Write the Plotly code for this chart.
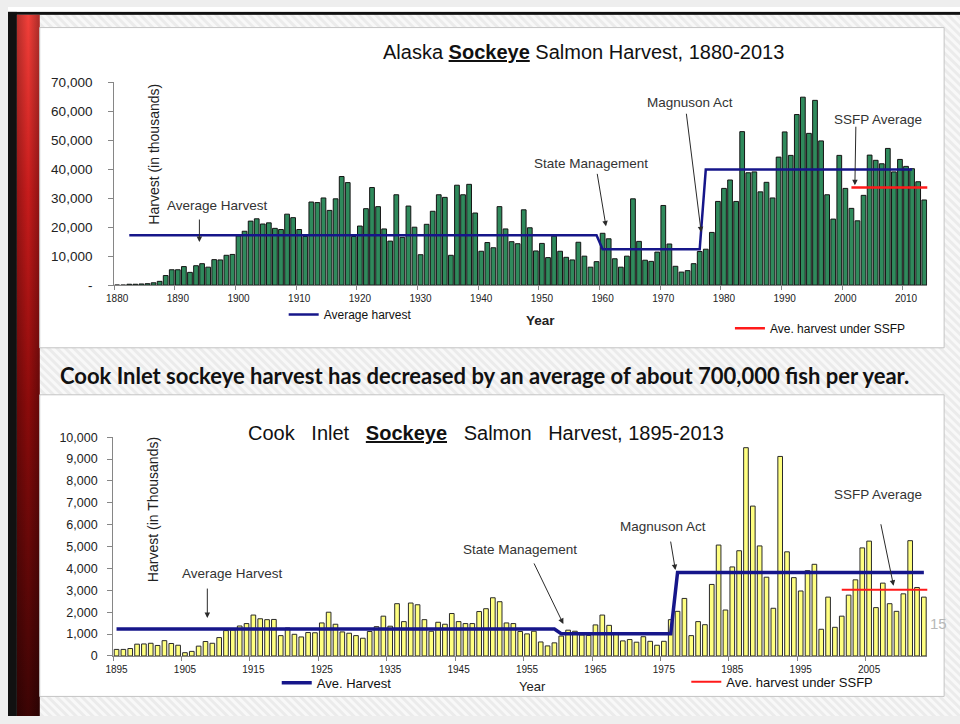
import base64
import plotly.graph_objects as go

# ---------------- data ----------------
alaska_years = list(range(1880, 2014))
alaska_harvest = [
    0, 0, 300, 300, 400, 500, 800, 1300, 3300, 5300,                          # 1880s
    5300, 6400, 4400, 6700, 7400, 6200, 8800, 8700, 10300, 10600,             # 1890s
    17000, 18600, 22100, 22900, 21100, 21500, 19600, 19200, 24500, 23300,     # 1900s
    19200, 16800, 28700, 28500, 30100, 25800, 29800, 37500, 35400, 16800,     # 1910s
    20400, 26400, 33700, 27100, 19400, 15200, 31200, 16500, 27300, 20000,     # 1920s
    10500, 21000, 25500, 31200, 30300, 10300, 34500, 31200, 34800, 24900,     # 1930s
    11700, 14700, 12900, 27100, 19400, 15000, 14300, 26000, 19800, 11800,     # 1940s
    14400, 9500, 16900, 11700, 9600, 8700, 14800, 10000, 6200, 8100,          # 1950s
    17900, 16000, 9100, 6200, 10000, 29800, 15100, 8600, 8200, 11400,         # 1960s
    27500, 14200, 6500, 4500, 5000, 7400, 11600, 12400, 18200, 28900,         # 1970s
    33400, 36300, 28900, 53000, 38800, 39100, 32200, 35500, 30100, 44200,     # 1980s
    52900, 44800, 58900, 64900, 52400, 63800, 49800, 31200, 22800, 44800,     # 1990s
    33400, 26500, 22200, 31000, 44900, 43100, 41900, 47200, 39100, 43400,     # 2000s
    41000, 40200, 35700, 29400,                                               # 2010s
]
alaska_avg_start = [1882, 1960, 1977]
alaska_avg_end = [1959, 1976, 2011]
alaska_avg_value = [17200, 12400, 39900]
alaska_ssfp_years = [2001, 2014]
alaska_ssfp_value = 33700

cook_years = list(range(1895, 2014))
cook_harvest = [
    300, 300, 340, 540, 550,                                                  # 1895-1899
    580, 480, 700, 570, 490, 150, 210, 450, 660, 580,                         # 1900s
    840, 1160, 1190, 1370, 1480, 1870, 1700, 1660, 1670, 930,                 # 1910s
    1280, 990, 870, 1070, 1060, 1510, 2000, 1450, 1100, 1040,                 # 1920s
    930, 810, 1120, 1340, 1820, 1360, 2390, 1570, 2420, 2340,                 # 1930s
    1660, 1130, 1540, 1450, 1940, 1570, 1480, 1480, 2030, 2160,               # 1940s
    2660, 2480, 1510, 1480, 1120, 1010, 1130, 640, 460, 600,                  # 1950s
    910, 1180, 1130, 960, 940, 1420, 1870, 1400, 1010, 690,                   # 1960s
    750, 630, 880, 670, 490, 670, 1660, 2040, 2630, 930,                      # 1970s
    1570, 1430, 3270, 5070, 2100, 4070, 4810, 9520, 6850, 5030,               # 1980s
    3600, 2180, 9120, 4760, 3580, 2970, 3900, 4190, 1220, 2690,               # 1990s
    1310, 1820, 2780, 3480, 4940, 5250, 2210, 3330, 2390, 2040,               # 2000s
    2840, 5270, 3130, 2690,                                                   # 2010s
]
cook_avg_start = [1895, 1960, 1977]
cook_avg_end = [1959, 1976, 2013]
cook_avg_value = [1230, 1020, 3820]
cook_ssfp_years = [2001, 2014]
cook_ssfp_value = 3030

alaska_xticks = list(range(1880, 2011, 10))
alaska_yticks = list(range(0, 70001, 10000))
alaska_ytext = ["-"] + [f"{v:,}" for v in alaska_yticks[1:]]
cook_xticks = list(range(1895, 2006, 10))
cook_yticks = list(range(0, 10001, 1000))
cook_ytext = [f"{v:,}" for v in cook_yticks]


def step_line(starts, ends, values):
    xs, ys = [], []
    for s, e, v in zip(starts, ends, values):
        xs += [s, e]
        ys += [v, v]
    return xs, ys


W, H = 960, 724


def px(x):
    return x / W


def py(y):
    return 1 - y / H


SANS = "Liberation Sans, Arial, sans-serif"
BLUE = "#16168a"
RED = "#ff1a1a"
AXIS = "#868686"
NB = "\u00a0"

fig = go.Figure()

# ---- Alaska panel ----
fig.add_trace(go.Bar(
    x=alaska_years, y=alaska_harvest, width=0.78,
    marker=dict(color="#2f8a5c", line=dict(color="#141414", width=1)),
    xaxis="x", yaxis="y", showlegend=False, hoverinfo="skip"))
ax_x, ax_y = step_line(alaska_avg_start, alaska_avg_end, alaska_avg_value)
fig.add_trace(go.Scatter(
    x=ax_x, y=ax_y, mode="lines", name="Average harvest",
    line=dict(color=BLUE, width=2.5), xaxis="x", yaxis="y", legend="legend"))
fig.add_trace(go.Scatter(
    x=alaska_ssfp_years, y=[alaska_ssfp_value] * len(alaska_ssfp_years),
    mode="lines", name="Ave. harvest under SSFP",
    line=dict(color=RED, width=2.5), xaxis="x", yaxis="y", legend="legend2"))

# ---- Cook Inlet panel ----
fig.add_trace(go.Bar(
    x=cook_years, y=cook_harvest, width=0.68,
    marker=dict(color="#ffff80", line=dict(color="#2a2a2a", width=1)),
    xaxis="x2", yaxis="y2", showlegend=False, hoverinfo="skip"))
cx, cy = step_line(cook_avg_start, cook_avg_end, cook_avg_value)
fig.add_trace(go.Scatter(
    x=cx, y=cy, mode="lines", name="Ave. Harvest",
    line=dict(color=BLUE, width=3.5), xaxis="x2", yaxis="y2", legend="legend3"))
fig.add_trace(go.Scatter(
    x=cook_ssfp_years, y=[cook_ssfp_value] * len(cook_ssfp_years),
    mode="lines", name="Ave. harvest under SSFP",
    line=dict(color=RED, width=2), xaxis="x2", yaxis="y2", legend="legend4"))

xcommon = dict(showgrid=False, zeroline=False, showline=True, linecolor=AXIS,
               linewidth=1, ticks="", tickfont=dict(size=10, color="#222"),
               tickmode="array", fixedrange=True)
ycommon = dict(showgrid=False, zeroline=False, showline=True, linecolor=AXIS,
               linewidth=1, ticks="outside", ticklen=5, tickcolor=AXIS,
               tickmode="array", fixedrange=True)

fig.update_layout(
    xaxis=dict(**xcommon, domain=[px(107), px(927)], range=[1879.5, 2013.5],
               anchor="y", tickvals=alaska_xticks,
               ticktext=[str(t) for t in alaska_xticks], ticklabelstandoff=4,
               minor=dict(tickmode="array", tickvals=[t - 0.5 for t in alaska_xticks],
                          ticks="outside", ticklen=4, tickcolor=AXIS)),
    yaxis=dict(**ycommon, domain=[py(284), py(77)], range=[0, 70000], anchor="x",
               tickvals=alaska_yticks, ticktext=alaska_ytext,
               tickfont=dict(size=13.5, color="#222"), ticklabelstandoff=13),
    xaxis2=dict(**xcommon, domain=[px(106), px(927)], range=[1894.5, 2013.5],
                anchor="y2", tickvals=cook_xticks,
                ticktext=[str(t) for t in cook_xticks], ticklabelstandoff=4,
                minor=dict(tickmode="array", tickvals=[t - 0.5 for t in cook_xticks],
                           ticks="outside", ticklen=4, tickcolor=AXIS)),
    yaxis2=dict(**ycommon, domain=[py(662.7), py(439.3)], range=[0, 10000], anchor="x2",
                tickvals=cook_yticks, ticktext=cook_ytext,
                tickfont=dict(size=12.5, color="#222"), ticklabelstandoff=7),
)

leg = dict(bgcolor="rgba(0,0,0,0)", borderwidth=0, itemwidth=30,
           font=dict(family=SANS, size=12, color="#111"), yanchor="middle",
           xanchor="left", orientation="h")
fig.update_layout(
    legend=dict(**leg, x=px(278), y=py(314)),
    legend2=dict(**leg, x=px(728), y=py(328)),
    legend3=dict(**leg, x=px(271), y=py(690), font_size=13),
    legend4=dict(**leg, x=px(684), y=py(689), font_size=13),
)

ann = []


def text(x, y, s, size=13.5, color="#333", **kw):
    ann.append(dict(x=px(x), y=py(y), xref="paper", yref="paper", text=s,
                    showarrow=False, font=dict(family=kw.pop("family", SANS),
                                               size=size, color=color),
                    xanchor=kw.pop("xanchor", "center"), yanchor="middle", **kw))


def arrow(x0, y0, x1, y1):
    ann.append(dict(x=px(x1), y=py(y1), xref="paper", yref="paper", text="",
                    showarrow=True, ax=x0 - x1, ay=y0 - y1, arrowhead=2,
                    arrowsize=1.1, arrowwidth=1, arrowcolor="#2a2a2a", standoff=0))


# titles
text(580, 46, "Alaska <b><u>Sockeye</u></b> Salmon Harvest, 1880-2013", size=20, color="#111")
gap = NB + NB + " "
text(482, 435, f"Cook{gap}Inlet{gap}<b><u>Sockeye</u></b>{gap}Salmon{gap}Harvest, 1895-2013",
     size=20, color="#111")
# axis titles
text(147, 150, "Harvest (in thousands)", size=14, color="#222", textangle=-90)
text(147, 513, "Harvest (in Thousands)", size=14, color="#222", textangle=-90)
text(537, 320, "<b>Year</b>", size=13.5, color="#222")
text(529, 694, "Year", size=13, color="#222")

# event labels, Alaska
text(211, 203, "Average Harvest")
arrow(193, 216, 193, 240)
text(588, 160, "State Management")
arrow(594, 170, 603, 224)
text(688, 98, "Magnuson Act")
arrow(684, 110, 699, 230)
text(877, 115, "SSFP Average")
arrow(855, 122, 854, 182)

# event labels, Cook Inlet
text(226, 578, "Average Harvest")
arrow(201, 593, 201, 624)
text(516, 554, "State Management")
arrow(530, 568, 560, 630)
text(660, 530, "Magnuson Act")
arrow(668, 545, 673, 575)
text(877, 498, "SSFP Average")
arrow(880, 528, 893, 591)

# headline between the panels
text(480, 376, "<b>Cook Inlet sockeye harvest has decreased by an average of about 700,000 fish per year.</b>",
     size=22, color="#111", family="Lato, Open Sans, sans-serif")
# slide number
text(938, 630, "15", size=15, color="#b8b8b8")

fig.update_layout(annotations=ann)

# slide background: hatched field, red side bar, dark frame
svg = f"""<svg xmlns='http://www.w3.org/2000/svg' width='{W}' height='{H}'>
<defs>
<pattern id='h' width='6' height='6' patternUnits='userSpaceOnUse' patternTransform='rotate(-45)'>
<rect width='6' height='6' fill='#ebebeb'/><rect width='3' height='6' fill='#f8f8f8'/></pattern>
<linearGradient id='r' x1='0' y1='0' x2='0' y2='1'>
<stop offset='0' stop-color='#f2403a'/><stop offset='0.25' stop-color='#c81c1c'/>
<stop offset='0.55' stop-color='#8c0b0b'/><stop offset='1' stop-color='#3a0404'/></linearGradient>
<linearGradient id='s' x1='0' y1='0' x2='1' y2='0'>
<stop offset='0' stop-color='#000' stop-opacity='0.25'/><stop offset='0.5' stop-color='#000' stop-opacity='0'/>
<stop offset='1' stop-color='#000' stop-opacity='0.3'/></linearGradient>
</defs>
<rect width='{W}' height='{H}' fill='url(#h)'/>
<rect x='0' y='0' width='{W}' height='5' fill='#ffffff'/>
<rect x='0' y='5' width='{W}' height='3' fill='#111111'/>
<rect x='0' y='5' width='9' height='{H}' fill='#111111'/>
<rect x='9' y='8' width='23' height='{H}' fill='url(#r)'/>
<rect x='9' y='8' width='23' height='{H}' fill='url(#s)'/>
</svg>"""
src = "data:image/svg+xml;base64," + base64.b64encode(svg.encode()).decode()
fig.add_layout_image(dict(source=src, xref="paper", yref="paper", x=0, y=1,
                          sizex=1, sizey=1, xanchor="left", yanchor="top",
                          sizing="stretch", layer="below"))

# white chart panels
for (x0, y0, x1, y1) in [(32, 21, 944, 348), (32, 396, 944, 704)]:
    fig.add_shape(type="rect", xref="paper", yref="paper", x0=px(x0), x1=px(x1),
                  y0=py(y1), y1=py(y0), fillcolor="white",
                  line=dict(color="#c4c4c4", width=1), layer="below")

fig.update_layout(
    width=W, height=H, autosize=False,
    margin=dict(l=0, r=0, t=0, b=0),
    paper_bgcolor="#eeeeee", plot_bgcolor="rgba(0,0,0,0)",
    font=dict(family=SANS, color="#222"),
    showlegend=True, hovermode=False,
)

fig.write_html("out.html", config={"displayModeBar": False})
